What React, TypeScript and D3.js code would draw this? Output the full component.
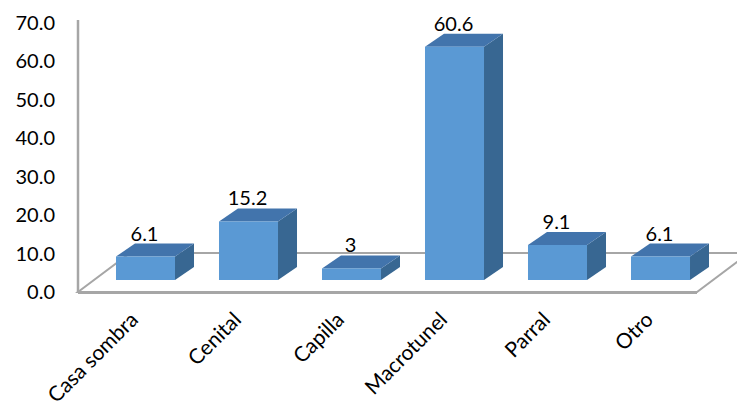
import React from "react";
import * as d3 from "d3";

const categories = ["Casa sombra", "Cenital", "Capilla", "Macrotunel", "Parral", "Otro"];
const values = [6.1, 15.2, 3, 60.6, 9.1, 6.1];
const valueLabels = ["6.1", "15.2", "3", "60.6", "9.1", "6.1"];
const yTicks = [0, 10, 20, 30, 40, 50, 60, 70];

const W = 737;
const H = 406;
const FONT = "Lato, 'Open Sans', sans-serif";

// perspective offsets
const depthX = 19;
const depthY = 13;
const floorDX = 52;
const floorDY = 39;

const frontColor = "#5A99D4";
const topColor = "#4274AC";
const sideColor = "#386792";
const gridColor = "#A6A6A6";

export default function App() {
  const x = d3
    .scaleBand<string>()
    .domain(categories)
    .range([94, 712])
    .paddingInner(0.427)
    .paddingOuter(0.2135);

  const y = d3.scaleLinear().domain([0, 70]).range([292, 22.5]);

  const floorLeft = 78;
  const floorRight = 697;
  const floorFront = y(0);
  const floorBack = floorFront - floorDY;
  const barBase = 280;
  const bw = x.bandwidth();

  return (
    <svg
      width={W}
      height={H}
      style={{ position: "absolute", left: 0, top: 0, background: "#fff" }}
    >
      {/* floor */}
      <path
        d={`M${floorLeft},${floorFront} L${floorRight},${floorFront} L${floorRight + floorDX},${floorBack} L${floorLeft + floorDX},${floorBack} Z`}
        fill="#fff"
        stroke={gridColor}
        strokeWidth={2}
      />
      <line
        x1={floorLeft}
        x2={floorRight}
        y1={floorFront + 0.5}
        y2={floorFront + 0.5}
        stroke={gridColor}
        strokeWidth={3}
      />
      {/* value axis */}
      <line x1={78} x2={78} y1={20} y2={floorFront + 1} stroke={gridColor} strokeWidth={2.5} />
      {yTicks.map((t) => (
        <text
          key={t}
          x={55}
          y={y(t)}
          dy="0.36em"
          textAnchor="end"
          fontFamily={FONT}
          fontSize={20}
          fill="#000"
        >
          {t.toFixed(1)}
        </text>
      ))}
      {/* bars */}
      {categories.map((c, i) => {
        const x0 = x(c)!;
        const x1 = x0 + bw;
        const h = floorFront - y(values[i]);
        const top = barBase - h;
        return (
          <g key={c}>
            <path
              d={`M${x1},${barBase} L${x1 + depthX},${barBase - depthY} L${x1 + depthX},${top - depthY} L${x1},${top} Z`}
              fill={sideColor}
            />
            <path
              d={`M${x0},${top} L${x1},${top} L${x1 + depthX},${top - depthY} L${x0 + depthX},${top - depthY} Z`}
              fill={topColor}
            />
            <rect x={x0} y={top} width={bw} height={h} fill={frontColor} />
            <text
              x={x0 + bw / 2 - 1}
              y={top - depthY - 3}
              textAnchor="middle"
              fontFamily={FONT}
              fontSize={20}
              fill="#000"
            >
              {valueLabels[i]}
            </text>
          </g>
        );
      })}
      {/* category labels */}
      {categories.map((c) => {
        const ax = x(c)! + bw / 2 - 6;
        const ay = 321;
        return (
          <text
            key={c}
            transform={`translate(${ax},${ay}) rotate(-45)`}
            textAnchor="end"
            fontFamily={FONT}
            fontSize={21}
            fill="#000"
          >
            {c}
          </text>
        );
      })}
    </svg>
  );
}
